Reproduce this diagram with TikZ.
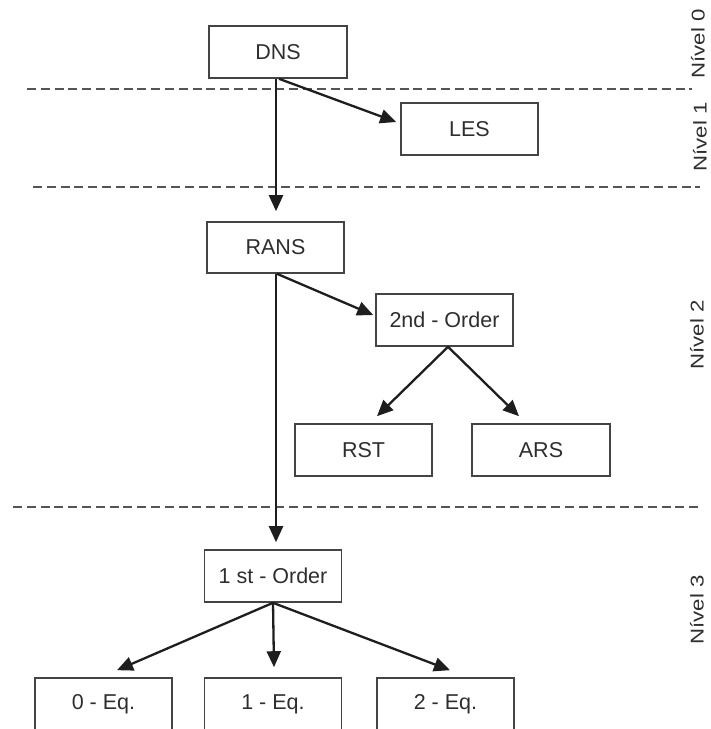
\documentclass[tikz,border=0pt]{standalone}
\usepackage{fontspec}
\setmainfont{Liberation Sans}
\usetikzlibrary{arrows.meta,calc}
\definecolor{boxgray}{HTML}{444444}
\definecolor{linkgray}{HTML}{1E1E1E}
\definecolor{sepgray}{HTML}{555555}
\definecolor{txtgray}{HTML}{2E2E2E}
\begin{document}
\begin{tikzpicture}[x=1pt,y=-1pt,
  box/.style={draw=boxgray, line width=1.6pt, minimum width=137pt, minimum height=52pt,
    inner sep=0pt, font=\fontsize{21.5}{25}\selectfont, text=txtgray},
  link/.style={draw=linkgray, line width=2.3pt, -{Triangle[length=16pt,width=14pt]}},
  levelsep/.style={draw=sepgray, line width=2.2pt, dash pattern=on 9pt off 4.8pt},
  levellabel/.style={rotate=90, inner sep=0pt, font=\fontsize{18.5}{22}\selectfont, text=txtgray}]
\useasboundingbox (0,0) rectangle (711,729);

% level separators
\draw[levelsep] (27,89) -- (692,89);
\draw[levelsep] (33,187) -- (700,187);
\draw[levelsep] (13,507) -- (698,507);

% level labels
\node[levellabel] (lv0) at (698,44)  {\scalebox{1.2}[1]{Nível 0}};
\node[levellabel] (lv1) at (700,137) {\scalebox{1.2}[1]{Nível 1}};
\node[levellabel] (lv2) at (697,335) {\scalebox{1.2}[1]{Nível 2}};
\node[levellabel] (lv3) at (697,610) {\scalebox{1.2}[1]{Nível 3}};

% model boxes
\node[box, minimum width=138pt] (DNS) at (278,52) {DNS};
\node[box] (LES) at (469.5,129) {LES};
\node[box, minimum height=51pt] (RANS) at (275.5,247.5) {RANS};
\node[box] (second) at (444.5,320) {2nd - Order};
\node[box] (RST) at (363.5,450) {RST};
\node[box, minimum width=138pt] (ARS) at (541,450) {ARS};
\node[box] (first) at (273,576) {1 st - Order};
\node[box] (eq0) at (103.5,704) {0 - Eq.};
\node[box] (eq1) at (273,704) {1 - Eq.};
\node[box] (eq2) at (445.5,704) {2 - Eq.};

% connectors
\draw[link] ($(DNS.south)+(-2,0)$) -- ($(RANS.north)+(0.5,-10)$);
\draw[link] ($(DNS.south)+(1,0)$) -- ($(LES.west)+(-4,-7)$);
\draw[link] ($(RANS.south)+(0.5,0)$) -- ($(first.north)+(3,-7)$);
\draw[link] ($(RANS.south)+(1.5,0)$) -- ($(second.west)+(-2,-5)$);
\draw[link] ($(second.south)+(3.5,0)$) -- ($(RST.north)+(13.5,-7)$);
\draw[link] ($(second.south)+(3.5,0)$) -- ($(ARS.north)+(-22,-7)$);
\draw[link] (first.south) -- ($(eq0.north)+(13.5,-7)$);
\draw[link] (first.south) -- ($(eq1.north)+(1,-10)$);
\draw[link] (first.south) -- ($(eq2.north)+(4.5,-7)$);
\end{tikzpicture}
\end{document}
